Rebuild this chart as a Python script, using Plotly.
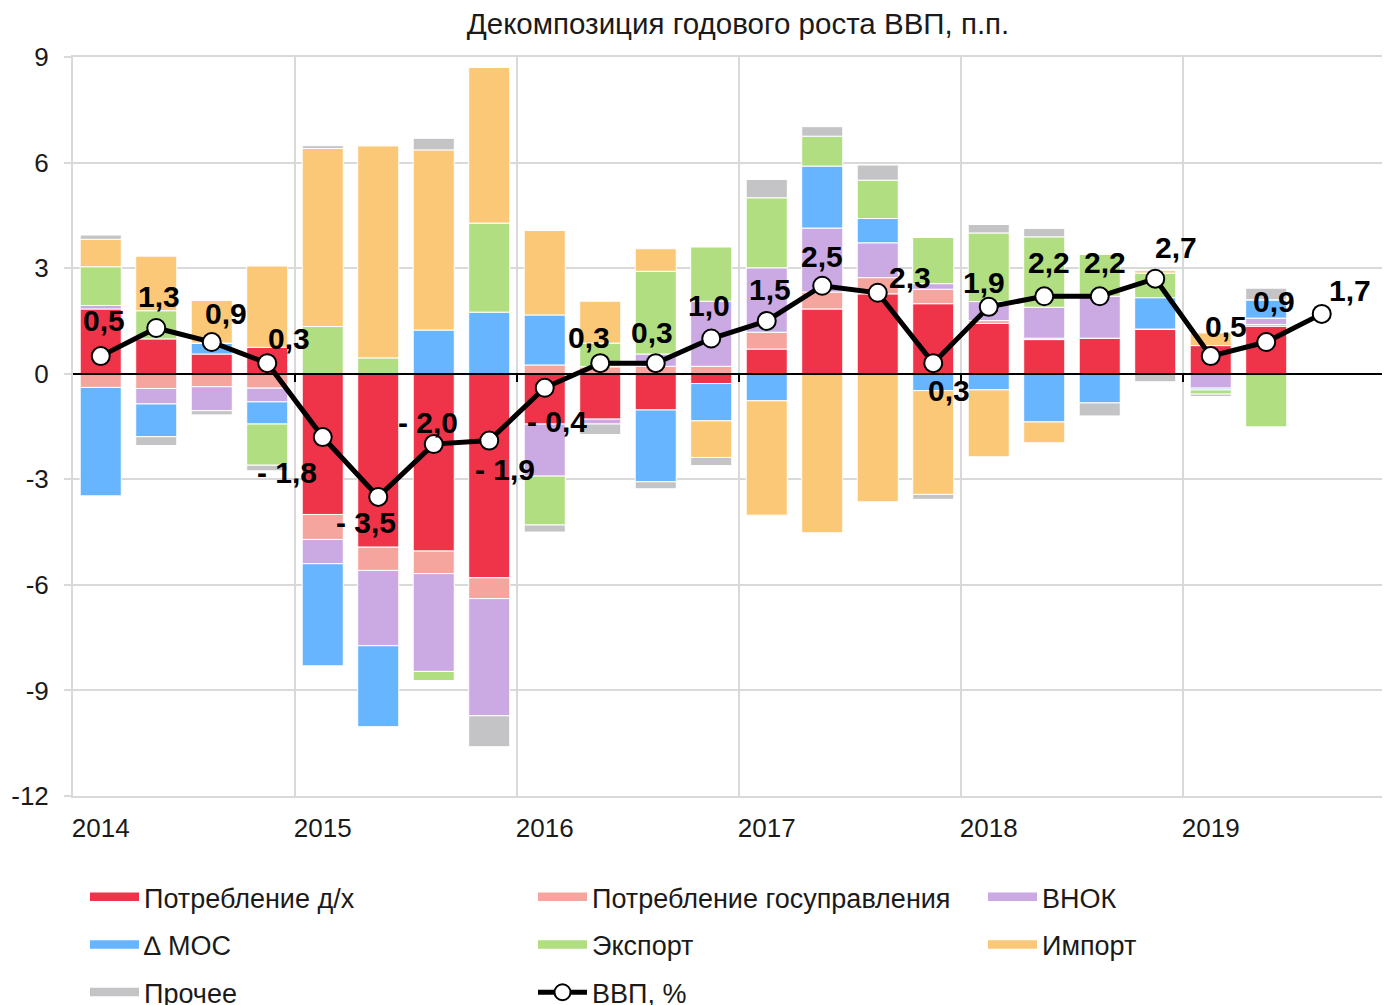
import plotly.graph_objects as go

# ---------------- data ----------------
quarters = ["2014 I", "2014 II", "2014 III", "2014 IV",
            "2015 I", "2015 II", "2015 III", "2015 IV",
            "2016 I", "2016 II", "2016 III", "2016 IV",
            "2017 I", "2017 II", "2017 III", "2017 IV",
            "2018 I", "2018 II", "2018 III", "2018 IV",
            "2019 I", "2019 II", "2019 III"]

cons_hh = [1.84, 0.99, 0.56, 0.75, -4.00, -4.93, -5.04, -5.80, -1.43, -1.29, -1.03, -0.28,
           0.70, 1.84, 2.27, 1.99, 1.43, 0.97, 1.01, 1.27, 0.80, 1.35]
cons_gov = [-0.39, -0.42, -0.37, -0.41, -0.71, -0.66, -0.64, -0.59, 0.25, 0.20, 0.21, 0.21,
            0.48, 0.48, 0.46, 0.41, 0.08, 0.04, 0.00, 0.00, 0.00, 0.05]
gfcf = [0.10, -0.44, -0.68, -0.39, -0.69, -2.14, -2.78, -3.33, -1.48, -0.14, 0.35, 1.85,
        1.83, 1.82, 0.99, 0.16, 0.54, 0.88, 1.19, 0.00, -0.41, 0.18]
inventories = [-3.08, -0.93, 0.31, -0.63, -2.90, -2.30, 1.24, 1.75, 1.42, 0.00, -2.04, -1.06,
               -0.77, 1.76, 0.69, -0.48, -0.46, -1.37, -0.83, 0.89, -0.05, 0.52]
exports = [1.10, 0.80, 0.00, -1.17, 1.34, 0.45, -0.26, 2.53, -1.39, 0.67, 2.35, 1.54,
           1.99, 0.85, 1.09, 1.31, 1.95, 2.00, 1.19, 0.70, -0.12, -1.51]
imports = [0.78, 1.55, 1.21, 2.31, 5.06, 6.03, 5.12, 4.42, 2.40, 1.19, 0.64, -1.04,
           -3.25, -4.52, -3.64, -2.95, -1.90, -0.59, 0.00, 0.07, 0.36, 0.00]
other = [0.12, -0.25, -0.12, -0.16, 0.08, 0.00, 0.33, -0.88, -0.20, -0.30, -0.20, -0.23,
         0.52, 0.27, 0.43, -0.14, 0.24, 0.24, -0.37, -0.23, -0.07, 0.33]
gdp = [0.5, 1.3, 0.9, 0.3, -1.8, -3.5, -2.0, -1.9, -0.4, 0.3, 0.3, 1.0,
       1.5, 2.5, 2.3, 0.3, 1.9, 2.2, 2.2, 2.7, 0.5, 0.9, 1.7]

series_names = ["Потребление д/х", "Потребление госуправления", "ВНОК",
                "∆ МОС", "Экспорт", "Импорт", "Прочее"]
series_values = [cons_hh, cons_gov, gfcf, inventories, exports, imports, other]
gdp_name = "ВВП, %"

year_labels = ["2014", "2015", "2016", "2017", "2018", "2019"]
y_ticks = [-12, -9, -6, -3, 0, 3, 6, 9]
y_tick_labels = ["-12", "-9", "-6", "-3", "0", "3", "6", "9"]
title_text = "Декомпозиция годового роста ВВП, п.п."

# ---------------- styles ----------------
colors = ["#EF344A", "#F6A59E", "#CBA9E3", "#67B4FF", "#B1DE80", "#FBC877", "#C4C4C6"]
legend_of = ["legend", "legend2", "legend3", "legend", "legend2", "legend3", "legend"]
# label offsets (px) relative to each GDP point
label_dx = [3, 3, 14, 22, -36, -12, -6, 16, 12, -11, -4, -2, 3, 0, 32, 16, -5, 5, 5, 21, 15, 8, 28]
label_dy = [36, 31, 29, 25, -35, -26, 22, -29, -34, 26, 31, 33, 31, 29, 15, -27, 24, 34, 34, 31, 30, 41, 23]

FONT = "Arial, 'Liberation Sans', sans-serif"
GRID = "#D9D9D9"
X_RANGE = [-0.5, 23.23]

xpos = list(range(len(quarters)))
n_bars = len(cons_hh)
year_idx = [i for i, q in enumerate(quarters) if q.endswith(" I")]
year_bounds = [i - 0.5 for i in year_idx[1:]]

fig = go.Figure()

for name, vals, col, lg in zip(series_names, series_values, colors, legend_of):
    fig.add_trace(go.Bar(
        x=xpos[:n_bars], y=vals, name=name, marker=dict(color=col, line=dict(color="white", width=1)),
        width=0.74, showlegend=False, legendgroup=name, hoverinfo="y+name"))
    # legend entry (wide swatch)
    fig.add_trace(go.Scatter(
        x=[None], y=[None], mode="lines", name=name, legendgroup=name, legend=lg,
        fill="toself", fillcolor=col, line=dict(color=col, width=5)))

fig.add_trace(go.Scatter(
    x=xpos, y=gdp, name=gdp_name, mode="lines+markers", xaxis="x2",
    line=dict(color="black", width=5),
    marker=dict(size=18, color="white", line=dict(color="black", width=2)),
    legend="legend2", legendgroup=gdp_name))


def fmt(v):
    s = f"{abs(v):.1f}".replace(".", ",")
    return ("- " + s) if v < 0 else s


annotations = []
for x, v, dx, dy in zip(xpos, gdp, label_dx, label_dy):
    annotations.append(dict(x=x, y=v, xref="x", yref="y", text="<b>" + fmt(v) + "</b>",
                            showarrow=False, xshift=dx, yshift=dy,
                            font=dict(family=FONT, size=30, color="black")))

legend_common = dict(orientation="v", xref="container", yref="container", yanchor="top",
                     xanchor="left", font=dict(family=FONT, size=27, color="#1a1a1a"),
                     bgcolor="rgba(0,0,0,0)", itemwidth=49, traceorder="grouped",
                     tracegroupgap=9.5, itemclick=False, itemdoubleclick=False)

fig.update_layout(
    width=1390, height=1005,
    margin=dict(l=65, r=8, t=49, b=217, autoexpand=False),
    barmode="relative",
    plot_bgcolor="white", paper_bgcolor="white",
    font=dict(family=FONT, size=26, color="#1a1a1a"),
    title=dict(text=title_text, xref="container", x=730 / 1390, xanchor="center",
               yref="container", y=1 - 16 / 1005, yanchor="middle",
               font=dict(family=FONT, size=29.5, color="#1a1a1a")),
    xaxis=dict(range=X_RANGE, tickvals=year_idx, ticktext=year_labels,
               showgrid=False, zeroline=False, showline=True, linecolor=GRID, linewidth=2,
               mirror=True, ticks="", ticklabelstandoff=8, tickfont=dict(size=26, color="#1a1a1a")),
    xaxis2=dict(overlaying="x", range=X_RANGE, anchor="free", position=12 / 21,
                tickvals=year_bounds, showticklabels=False, ticks="outside", ticklen=8,
                tickcolor="black", tickwidth=1.5, showline=True, linecolor="black",
                linewidth=1.5, showgrid=True, gridcolor=GRID, gridwidth=2, zeroline=False),
    yaxis=dict(range=[-12, 9], tickvals=y_ticks, ticktext=y_tick_labels, showgrid=True,
               gridcolor=GRID, gridwidth=2, zeroline=False, showline=True, linecolor=GRID,
               linewidth=2, ticks="outside", ticklen=7, tickcolor=GRID, tickwidth=2,
               ticklabelstandoff=10, tickfont=dict(size=26, color="#1a1a1a")),
    annotations=annotations,
    legend=dict(x=77 / 1390, y=1 - 865 / 1005, **legend_common),
    legend2=dict(x=525 / 1390, y=1 - 865 / 1005, **legend_common),
    legend3=dict(x=975 / 1390, y=1 - 865 / 1005, **legend_common),
)

fig.write_html("out.html")
